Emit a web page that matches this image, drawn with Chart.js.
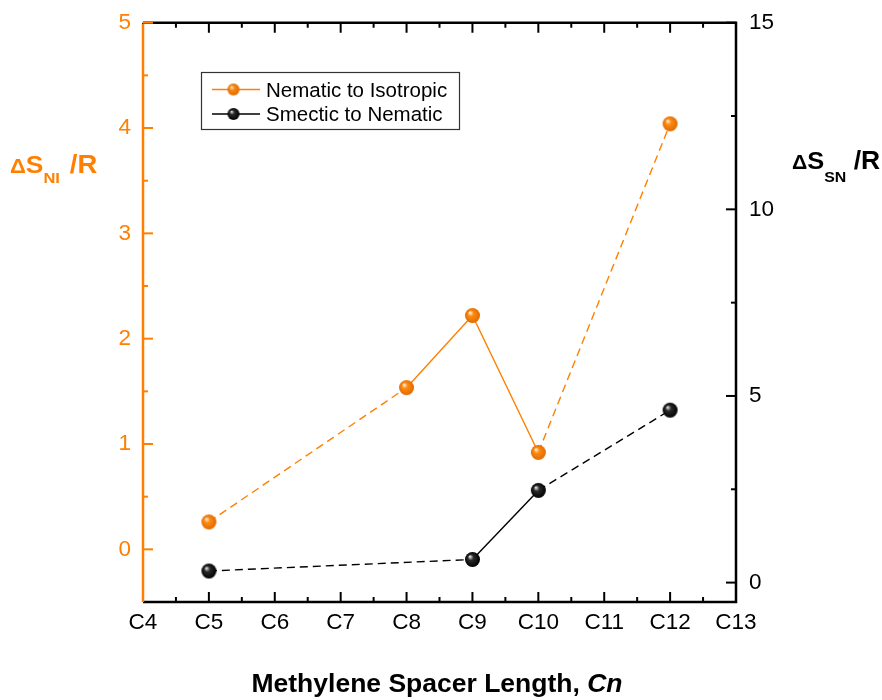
<!DOCTYPE html>
<html><head><meta charset="utf-8">
<script src="https://cdn.jsdelivr.net/npm/chart.js@4/dist/chart.umd.min.js"></script>
<style>html,body{margin:0;padding:0;background:#fff}canvas{display:block}</style>
</head><body>
<canvas id="c" width="882" height="700"></canvas>
<script>
// ---- data ----
const spacerLengths = [5, 8, 9, 10, 12];            // Cn
const nematicIsotropic = [0.26, 1.535, 2.22, 0.92, 4.04];   // ΔS_NI/R (left axis)
const smecticSpacer = [5, 9, 10, 12];
const smecticNematic = [0.31, 0.62, 2.47, 4.62];    // ΔS_SN/R (right axis)
const xTickValues = [4,5,6,7,8,9,10,11,12,13];
const xTickLabels = ['C4','C5','C6','C7','C8','C9','C10','C11','C12','C13'];
const leftTicks = [0,1,2,3,4,5];
const rightTicks = [0,5,10,15];
const seriesNames = ['Nematic to Isotropic','Smectic to Nematic'];
// segments drawn dashed (index of starting point)
const niDashed = [0, 3];
const snDashed = [0, 2];

const ORANGE = 'rgb(255,128,0)';
const FONT = '"Liberation Sans", Arial, Helvetica, sans-serif';

function sphere(hi, base, dark, r){
  const s = Math.ceil(r*2+2), c = document.createElement('canvas');
  c.width = c.height = s;
  const g = c.getContext('2d'), cx = s/2, cy = s/2;
  const gr = g.createRadialGradient(cx-r*0.35, cy-r*0.4, r*0.05, cx, cy, r);
  gr.addColorStop(0, hi); gr.addColorStop(0.35, base); gr.addColorStop(1, dark);
  g.fillStyle = gr; g.beginPath(); g.arc(cx, cy, r, 0, Math.PI*2); g.fill();
  return c;
}
const orangeBall = sphere('#fff0dd', '#ff8a10', '#e06a00', 7.5);
const blackBall = sphere('#e0e0e0', '#2a2a2a', '#000', 7.5);
const orangeBallS = sphere('#fff0dd', '#ff8a10', '#e06a00', 6);
const blackBallS = sphere('#e0e0e0', '#2a2a2a', '#000', 6);

const frame = {
  id: 'frame',
  beforeDatasetsDraw(chart){
    const {ctx, chartArea: a, scales} = chart;
    const x = scales.x, yL = scales.yL, yR = scales.yR;
    ctx.save();
    ctx.lineWidth = 2.5;
    ctx.strokeStyle = '#000';
    ctx.beginPath();
    ctx.moveTo(a.left, a.top); ctx.lineTo(a.right, a.top); ctx.lineTo(a.right, a.bottom); ctx.lineTo(a.left, a.bottom);
    ctx.stroke();
    ctx.lineWidth = 2;
    // x ticks (top & bottom, inward)
    for (let v = xTickValues[0]; v <= xTickValues[xTickValues.length-1] + 1e-9; v += 0.5){
      const px = x.getPixelForValue(v);
      const len = Number.isInteger(v) ? 10 : 5;
      ctx.beginPath();
      ctx.moveTo(px, a.bottom); ctx.lineTo(px, a.bottom - len);
      ctx.moveTo(px, a.top); ctx.lineTo(px, a.top + len);
      ctx.stroke();
    }
    // right ticks
    for (let v = 0; v <= 15; v += 2.5){
      const py = yR.getPixelForValue(v);
      const len = (v % 5 === 0) ? 10 : 5;
      ctx.beginPath(); ctx.moveTo(a.right, py); ctx.lineTo(a.right - len, py); ctx.stroke();
    }
    // left axis orange
    ctx.strokeStyle = ORANGE;
    ctx.lineWidth = 2.5;
    ctx.beginPath(); ctx.moveTo(a.left, a.top + 1); ctx.lineTo(a.left, a.bottom); ctx.stroke();
    ctx.lineWidth = 2;
    for (let v = 0; v <= 5; v += 0.5){
      const py = yL.getPixelForValue(v);
      const len = Number.isInteger(v) ? 10 : 5;
      ctx.beginPath(); ctx.moveTo(a.left, py); ctx.lineTo(a.left + len, py); ctx.stroke();
    }
    ctx.restore();
  },
  afterDraw(chart){
    const ctx = chart.ctx;
    ctx.save();
    ctx.textBaseline = 'alphabetic';
    ctx.textAlign = 'left';
    function rich(parts, x, y, color, sx){
      ctx.save();
      ctx.translate(x, y);
      ctx.scale(sx || 1, 1);
      let cx = 0;
      ctx.fillStyle = color;
      for (const p of parts){
        ctx.font = p.font;
        ctx.fillText(p.t, cx, (p.dy||0));
        cx += ctx.measureText(p.t).width + (p.gap||0);
      }
      ctx.restore();
    }
    function width(parts){
      let w = 0;
      for (const p of parts){ ctx.font = p.font; w += ctx.measureText(p.t).width + (p.gap||0); }
      return w;
    }
    // left title
    rich([
      {t:'Δ', font:'bold 20px '+FONT, gap:0},
      {t:'S', font:'bold 24px '+FONT},
      {t:'NI', font:'bold 15px '+FONT, dy:10, gap:2},
      {t:' /R', font:'bold 25px '+FONT}
    ], 10, 173, ORANGE, 1.1);
    // right title
    rich([
      {t:'Δ', font:'bold 20px '+FONT},
      {t:'S', font:'bold 24px '+FONT},
      {t:'SN', font:'bold 15px '+FONT, dy:13, gap:0},
      {t:' /R', font:'bold 25px '+FONT}
    ], 792, 168.5, '#000', 1.06);
    // x title
    const xt = [
      {t:'Methylene Spacer Length, ', font:'bold 26.5px '+FONT},
      {t:'Cn', font:'italic bold 26.5px '+FONT}
    ];
    rich(xt, 437 - width(xt)/2, 691.5, '#000', 1);
    // legend
    const bx = 201.5, by = 72.5, bw = 258, bh = 57;
    ctx.strokeStyle = '#333'; ctx.lineWidth = 1.2;
    ctx.strokeRect(bx, by, bw, bh);
    const rows = [
      {y: 89.5, color: ORANGE, ball: orangeBallS, label: seriesNames[0]},
      {y: 114, color: '#000', ball: blackBallS, label: seriesNames[1]}
    ];
    for (const r of rows){
      ctx.strokeStyle = r.color; ctx.lineWidth = 1.3;
      ctx.beginPath(); ctx.moveTo(212, r.y); ctx.lineTo(260, r.y); ctx.stroke();
      ctx.drawImage(r.ball, 233.5 - r.ball.width/2, r.y - r.ball.height/2);
      ctx.fillStyle = '#000'; ctx.font = '20.5px '+FONT;
      ctx.fillText(r.label, 266, r.y + 7);
    }
    ctx.restore();
  }
};

function fixY(width){
  return s => { s.width = width; s.paddingTop = 0; };
}

new Chart(document.getElementById('c'), {
  type: 'line',
  data: {
    datasets: [
      {
        label: seriesNames[0],
        data: spacerLengths.map((x,i)=>({x, y: nematicIsotropic[i]})),
        yAxisID: 'yL',
        borderColor: ORANGE, borderWidth: 1.4,
        pointStyle: orangeBall, pointRadius: 7.5,
        segment: { borderDash: c => niDashed.includes(c.p0DataIndex) ? [8,5] : undefined }
      },
      {
        label: seriesNames[1],
        data: smecticSpacer.map((x,i)=>({x, y: smecticNematic[i]})),
        yAxisID: 'yR',
        borderColor: '#000', borderWidth: 1.4,
        pointStyle: blackBall, pointRadius: 7.5,
        segment: { borderDash: c => snDashed.includes(c.p0DataIndex) ? [8,5] : undefined }
      }
    ]
  },
  options: {
    responsive: false, animation: false,
    clip: false,
    layout: { padding: { top: 22.7, left: 0, right: 0, bottom: 0 } },
    plugins: { legend: { display: false }, tooltip: { enabled: false } },
    scales: {
      x: {
        type: 'linear', min: 4, max: 13,
        grid: { display: false, drawTicks: false }, border: { display: false },
        afterBuildTicks: s => { s.ticks = xTickValues.map(v => ({value: v})); },
        afterFit: s => { s.height = 98; },
        ticks: {
          color: '#000', font: { family: FONT, size: 22.5 }, padding: 7, maxRotation: 0, autoSkip: false,
          callback: v => xTickLabels[xTickValues.indexOf(v)]
        }
      },
      yL: {
        position: 'left', min: -0.5, max: 5,
        grid: { display: false, drawTicks: false }, border: { display: false },
        afterBuildTicks: s => { s.ticks = leftTicks.map(v => ({value: v})); },
        afterFit: fixY(143),
        ticks: { color: ORANGE, font: { family: FONT, size: 22.5 }, padding: 12 }
      },
      yR: {
        position: 'right', min: -0.52, max: 15,
        grid: { display: false, drawTicks: false }, border: { display: false },
        afterBuildTicks: s => { s.ticks = rightTicks.map(v => ({value: v})); },
        afterFit: fixY(146),
        ticks: { color: '#000', font: { family: FONT, size: 22.5 }, padding: 13 }
      }
    }
  },
  plugins: [frame]
});
</script>
</body></html>
